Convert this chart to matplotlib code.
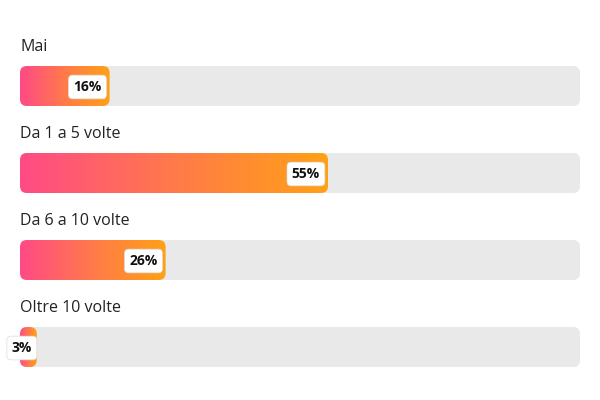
import matplotlib
matplotlib.use("Agg")
import matplotlib.pyplot as plt
import numpy as np
from matplotlib.patches import FancyBboxPatch
from matplotlib.colors import LinearSegmentedColormap

categories = ["Mai", "Da 1 a 5 volte", "Da 6 a 10 volte", "Oltre 10 volte"]
values = [16, 55, 26, 3]

fig = plt.figure(figsize=(6, 4), dpi=100)
ax = fig.add_axes([0, 0, 1, 1])
ax.set_xlim(0, 600); ax.set_ylim(400, 0); ax.axis("off")

cmap = LinearSegmentedColormap.from_list("g", ["#ff4a86", "#ff7a4a", "#ffa115"])
x0, W, H = 20, 560, 40
for i, (c, v) in enumerate(zip(categories, values)):
    top = 66 + i * 87
    ax.text(x0, top - 19, c, fontsize=11.5, family="Open Sans", va="center", ha="left", color="#222")
    bg = FancyBboxPatch((x0, top), W, H, boxstyle="round,pad=0,rounding_size=7",
                        fc="#e9e9e9", ec="none")
    ax.add_patch(bg)
    w = W * v / 100
    bar = FancyBboxPatch((x0, top), w, H, boxstyle="round,pad=0,rounding_size=7",
                         fc="none", ec="none")
    ax.add_patch(bar)
    im = ax.imshow(np.linspace(0, 1, 256)[None, :], cmap=cmap, aspect="auto",
                   extent=(x0, x0 + w, top + H, top), zorder=2)
    im.set_clip_path(bar)
    bx = max(x0 + w - 8, x0 + 12)
    ax.text(bx, top + H / 2 + 1, f"{v}%", fontsize=10, fontweight="bold", family="Open Sans",
            ha="right", va="center", color="#111", zorder=4,
            bbox=dict(boxstyle="round,pad=0.35,rounding_size=0.3", fc="white", ec="#dddddd", lw=0.5))

fig.savefig("out.png", dpi=100)
